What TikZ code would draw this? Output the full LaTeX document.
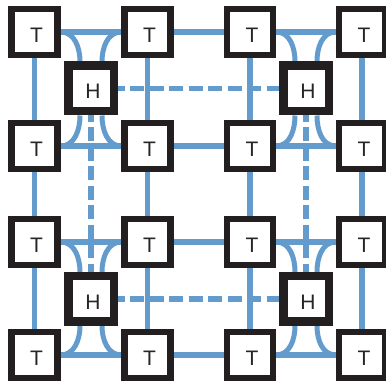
\documentclass[tikz,border=0pt]{standalone}
\usepackage{fontspec}
\setsansfont{Liberation Sans}
\usetikzlibrary{backgrounds}
\definecolor{linkblue}{RGB}{100,155,205}
\definecolor{boxblack}{RGB}{35,31,32}

\begin{document}
\begin{tikzpicture}[x=1pt, y=1pt,
  tile/.style={draw=boxblack, line width=6.5pt, fill=white, minimum size=46pt,
    inner sep=0pt, font=\sffamily\fontsize{21}{21}\selectfont, text=black!85,
    text height=21pt, text depth=0pt, execute at begin node={\kern4pt}},
  hub/.style={tile, line width=8.5pt, minimum size=45.5pt},
  link/.style={linkblue, line width=5.5pt},
  swoop/.style={linkblue, line width=5pt},
  hop/.style={link, dash pattern=on 14pt off 5.5pt}]
\useasboundingbox (0,0) rectangle (386,385);
% tiles T, row r and column c
\foreach \c/\x in {0/34.5,1/147.5,2/250,3/362}
  \foreach \r/\y in {0/353,1/239,2/143,3/30}
    \node[tile] (T\r\c) at (\x,\y) {T};
% hubs H
\foreach \c/\x in {0/91,1/306}
  \foreach \r/\y in {0/296.5,1/86}
    \node[hub] (H\r\c) at (\x,\y) {H};
\begin{scope}[on background layer]
% grid links
\foreach \i in {0,...,3} {
  \draw[link] (T\i0.center) -- (T\i1.center) -- (T\i2.center) -- (T\i3.center);
  \draw[link] (T0\i.center) -- (T1\i.center) -- (T2\i.center) -- (T3\i.center);
}
% hub to hub
\draw[hop] (H00.center) -- (H01.center);
\draw[hop] (H10.center) -- (H11.center);
\draw[hop] (H00.center) -- (H10.center);
\draw[hop] (H01.center) -- (H11.center);
% curves into the hubs
\foreach \r in {0,1}
  \foreach \c in {0,1} {
    \pgfmathtruncatemacro\ra{2*\r}
    \pgfmathtruncatemacro\rb{2*\r+1}
    \pgfmathtruncatemacro\ca{2*\c}
    \pgfmathtruncatemacro\cb{2*\c+1}
    \draw[swoop] (T\ra\ca.east) to[out=0, in=90] ([xshift=-11pt]H\r\c.north);
    \draw[swoop] (T\ra\cb.west) to[out=180, in=90] ([xshift=11pt]H\r\c.north);
    \draw[swoop] (T\rb\ca.east) to[out=0, in=-90] ([xshift=-11pt]H\r\c.south);
    \draw[swoop] (T\rb\cb.west) to[out=180, in=-90] ([xshift=11pt]H\r\c.south);
  }
\end{scope}
\end{tikzpicture}
\end{document}
